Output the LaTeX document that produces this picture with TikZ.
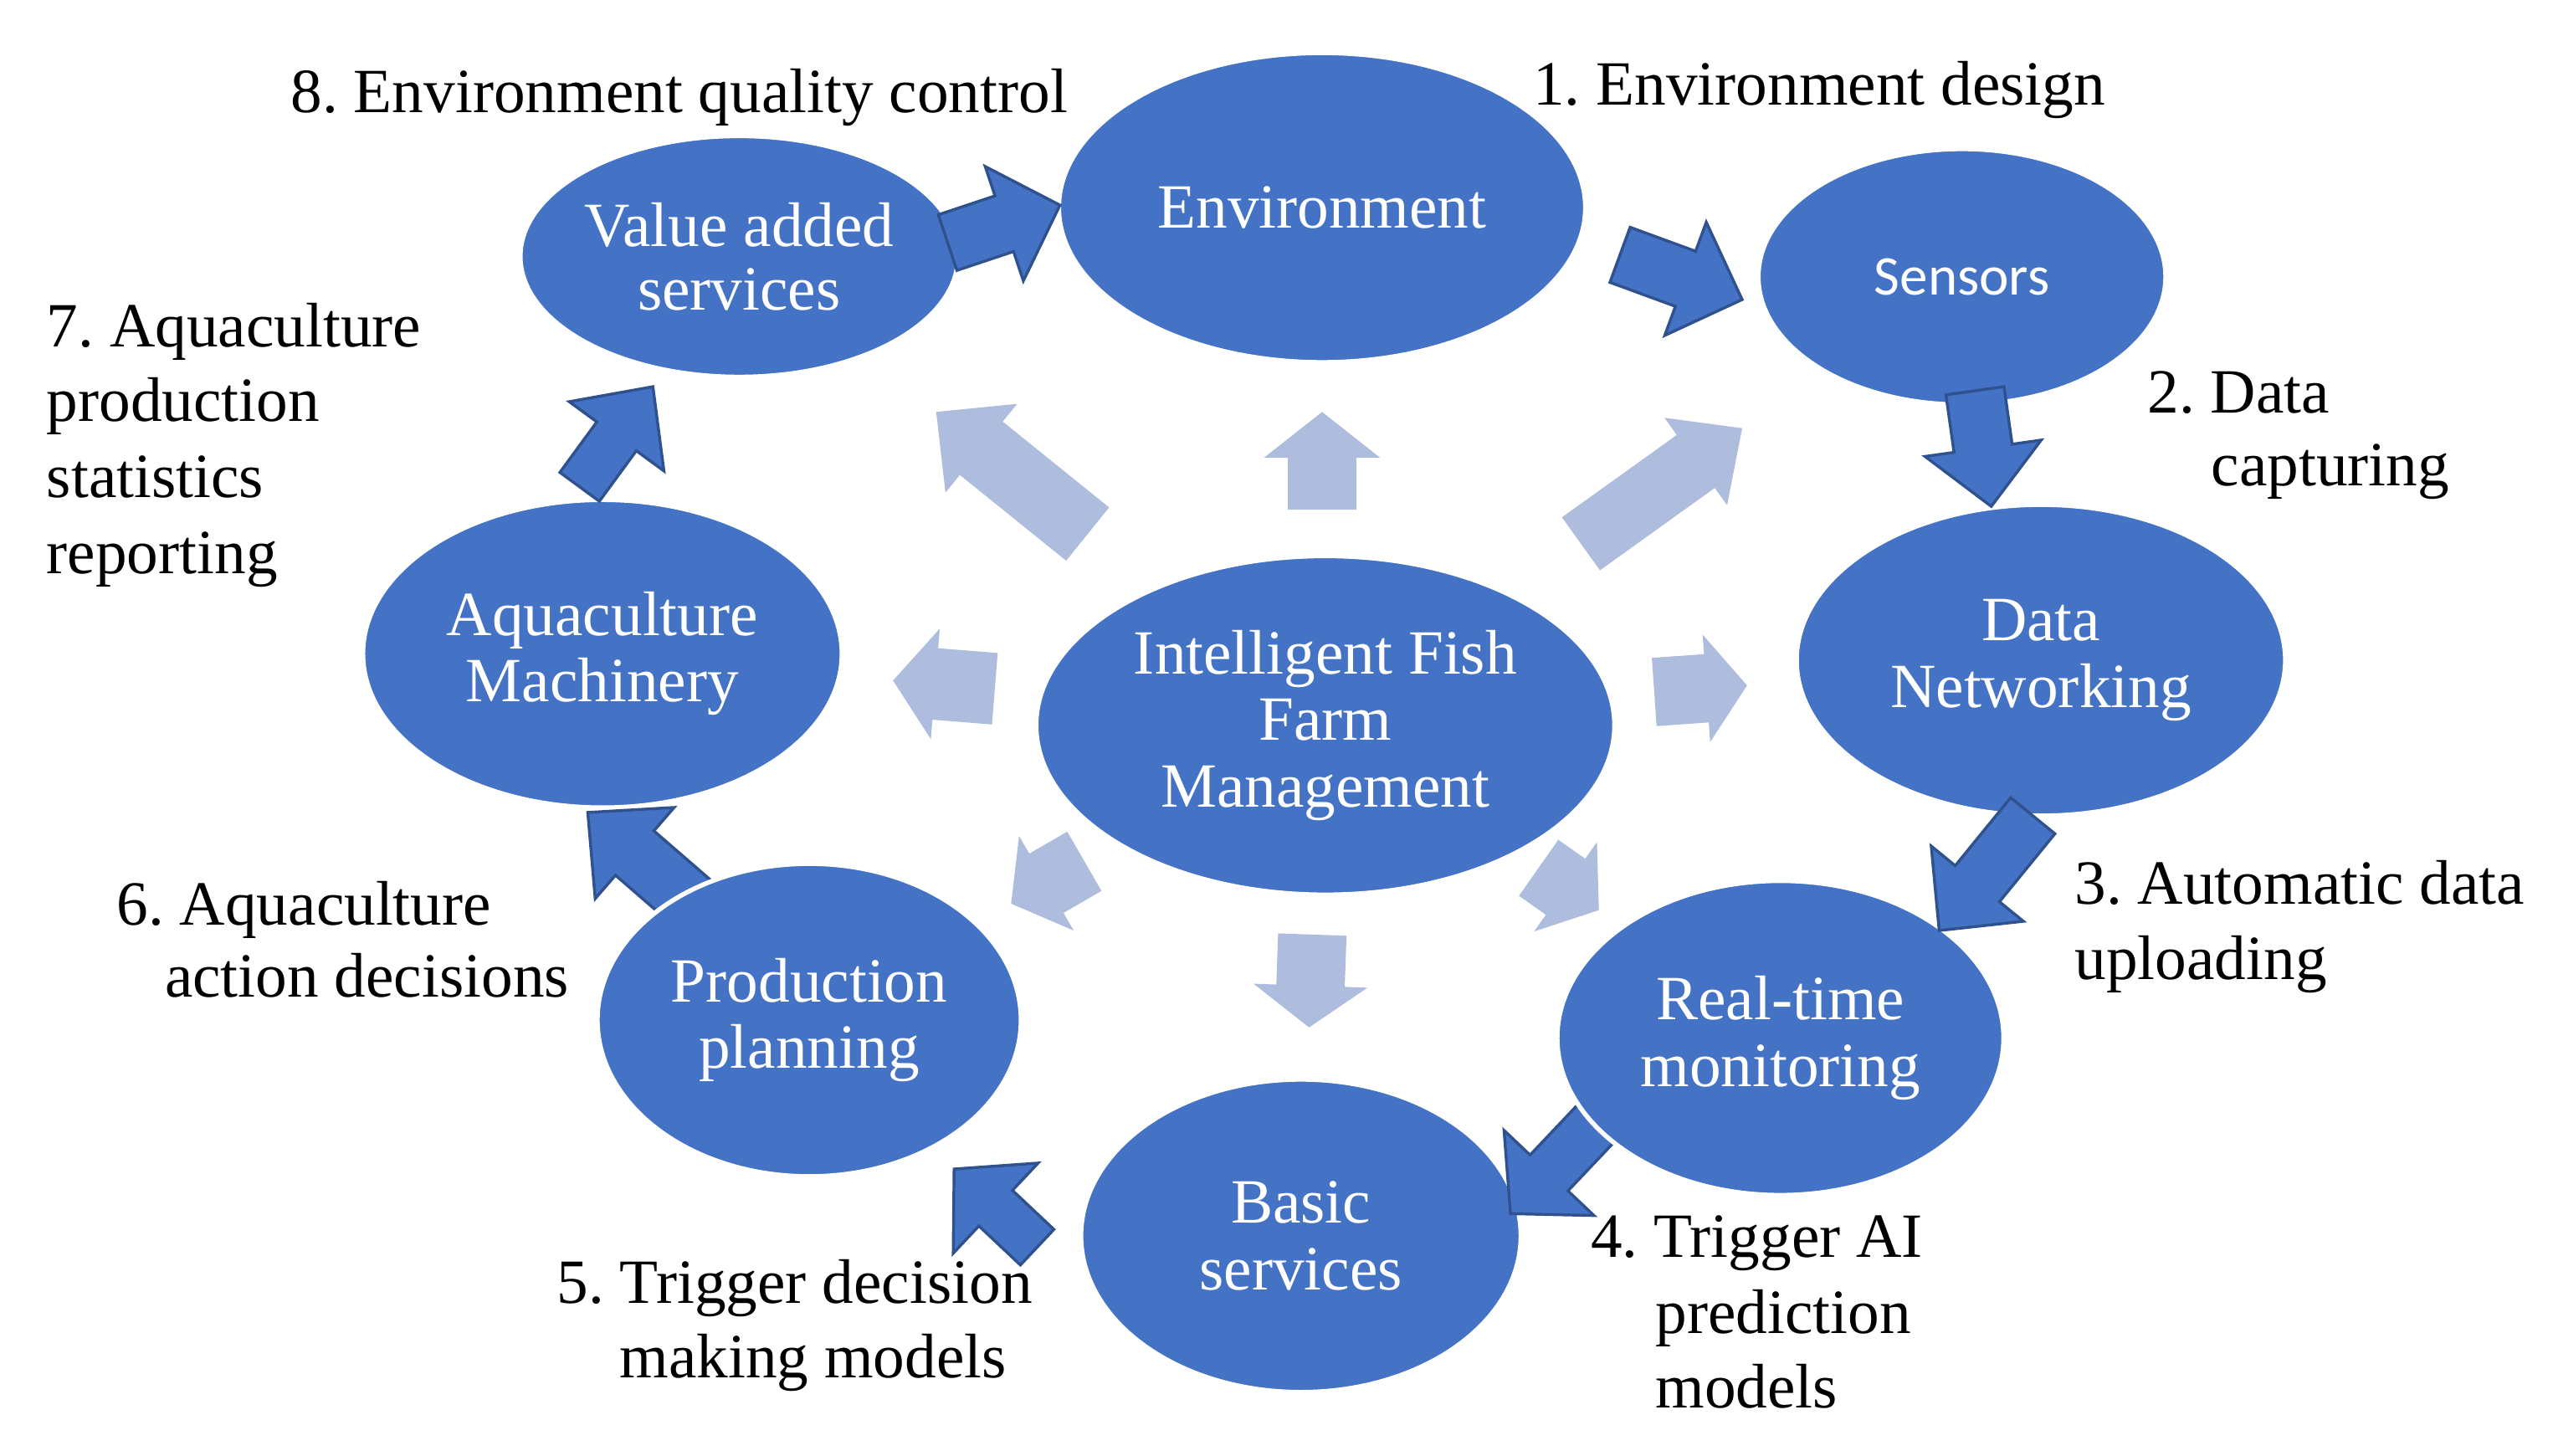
\documentclass[tikz,border=0pt]{standalone}
\usepackage{fontspec}
\setmainfont{Liberation Serif}
\newfontfamily\sensfont{Carlito}
\usetikzlibrary{calc,shapes.geometric}
\definecolor{ellblue}{HTML}{4472C4}
\definecolor{arredge}{HTML}{2F528F}
\definecolor{lightarr}{RGB}{174,188,221}
\frenchspacing

% block arrow: #1 tail coordinate, #2 tip coordinate, #3 half shaft, #4 half head, #5 head length (px), #6 style
\newcommand\blockarr[6]{%
  \path[#6] let \p1=(#1), \p2=(#2),
    \n1={atan2(\y2-\y1,\x2-\x1)},
    \n2={veclen(\x2-\x1,\y2-\y1)-#5*0.28453pt},
    \n3={#3*0.28453}, \n4={#4*0.28453} in
    ($(\p1)+(\n1+90:\n3 pt)$) --
    ($(\p1)+(\n1:\n2)+(\n1+90:\n3 pt)$) --
    ($(\p1)+(\n1:\n2)+(\n1+90:\n4 pt)$) --
    (\p2) --
    ($(\p1)+(\n1:\n2)+(\n1-90:\n4 pt)$) --
    ($(\p1)+(\n1:\n2)+(\n1-90:\n3 pt)$) --
    ($(\p1)+(\n1-90:\n3 pt)$) -- cycle;}

\tikzset{
  ell/.style={ellipse, fill=ellblue, draw=white, line width=0.8pt, inner sep=0pt,
    text=white, align=center, font=\fontsize{11}{11.6}\selectfont},
  lab/.style={anchor=base west, inner sep=0pt, font=\fontsize{11}{13.2}\selectfont},
  darrow/.style={fill=ellblue, draw=arredge, line width=0.5pt, line join=miter},
  larrow/.style={fill=lightarr}
}

\begin{document}
\begin{tikzpicture}[x=0.01cm,y=-0.01cm]
\fill[white] (0,0) rectangle (1568,894);
\useasboundingbox (0,0) rectangle (1568,894);

% light arrows (from the centre outwards)
\coordinate (lua) at (812,313);  \coordinate (lub) at (812,253);
\coordinate (lula) at (668,328); \coordinate (lulb) at (575,253);
\coordinate (lura) at (971,334); \coordinate (lurb) at (1070,263);
\coordinate (lra) at (1016,425); \coordinate (lrb) at (1073,421);
\coordinate (lla) at (611,423);  \coordinate (llb) at (548.5,418);
\coordinate (ldla) at (666,529); \coordinate (ldlb) at (621,555);
\coordinate (lda) at (806,574);  \coordinate (ldb) at (804,631);
\coordinate (ldra) at (945,533); \coordinate (ldrb) at (982,559);
\blockarr{lua}{lub}{21}{35.5}{28}{larrow}
\blockarr{lula}{lulb}{21}{35}{35.5}{larrow}
\blockarr{lura}{lurb}{20}{33}{35}{larrow}
\blockarr{lra}{lrb}{21}{33}{25}{larrow}
\blockarr{lla}{llb}{22}{34}{26}{larrow}
\blockarr{ldla}{ldlb}{21}{33.5}{25}{larrow}
\blockarr{lda}{ldb}{21}{35}{25.6}{larrow}
\blockarr{ldra}{ldrb}{21}{33.5}{25}{larrow}

% ellipses
\node[ell, minimum width=3.232cm, minimum height=1.90cm] (env) at (812,127.5) {Environment};
\node[ell, minimum width=2.58cm, minimum height=1.48cm, font=\fontsize{11}{11.1}\selectfont] (va) at (454,157.5) {Value added\\services};
\node[ell, minimum width=2.50cm, minimum height=1.57cm, font=\sensfont\fontsize{9.8}{11}\selectfont] (sens) at (1205,170) {Sensors};
\node[ell, minimum width=3.00cm, minimum height=1.91cm] (dn) at (1253.5,405.5) {Data\\Networking};
\node[ell, minimum width=2.70cm, minimum height=1.92cm] (basic) at (799,759) {Basic\\services};
\node[ell, minimum width=2.94cm, minimum height=1.89cm] (mach) at (370,401.5) {Aquaculture\\Machinery};
\node[ell, minimum width=3.55cm, minimum height=2.08cm] (ifm) at (814,445.5) {Intelligent Fish\\Farm\\Management};

% dark arrows whose tails lie under their source ellipse
\coordinate (d5a) at (983,687);  \coordinate (d5b) at (927.7,745.4);
\coordinate (d7a) at (428,557);  \coordinate (d7b) at (361,499);
\blockarr{d5a}{d5b}{16}{38}{34.4}{darrow}
\blockarr{d7a}{d7b}{18}{37}{38}{darrow}

\node[ell, minimum width=2.74cm, minimum height=1.93cm] (rt) at (1093.5,637.5) {Real-time\\monitoring};
\node[ell, minimum width=2.60cm, minimum height=1.92cm] (prod) at (497,626.5) {Production\\planning};

% remaining dark arrows
\coordinate (d1a) at (582,149);    \coordinate (d1b) at (651,126);
\coordinate (d2a) at (995,156.5);  \coordinate (d2b) at (1070,184);
\coordinate (d3a) at (1213,240);   \coordinate (d3b) at (1223,311);
\coordinate (d4a) at (1248.5,501); \coordinate (d4b) at (1191,571.5);
\coordinate (d6a) at (637,766);    \coordinate (d6b) at (586,718);
\coordinate (d8a) at (356,299);    \coordinate (d8b) at (401,237.5);
\blockarr{d1a}{d1b}{18}{37}{36}{darrow}
\blockarr{d2a}{d2b}{18}{37}{37}{darrow}
\blockarr{d3a}{d3b}{18}{36}{36}{darrow}
\blockarr{d4a}{d4b}{17.5}{36.5}{37}{darrow}
\blockarr{d6a}{d6b}{15}{38}{35}{darrow}
\blockarr{d8a}{d8b}{15}{36}{37.7}{darrow}

% labels
\node[lab] (l8) at (178,69.3) {8. Environment quality control};
\node[lab] (l1) at (941,64.4) {1. Environment design};
\node[lab] (l7a) at (28,213) {7. Aquaculture};
\node[lab] (l7b) at (28,259) {production};
\node[lab] (l7c) at (28,305.3) {statistics};
\node[lab] (l7d) at (28,352.5) {reporting};
\node[lab] (l2a) at (1318.4,253.7) {2. Data};
\node[lab] (l2b) at (1357.5,298.5) {capturing};
\node[lab] (l3a) at (1273.7,555.5) {3. Automatic data};
\node[lab] (l3b) at (1273.7,601.3) {uploading};
\node[lab] (l4a) at (976.4,772.4) {4. Trigger AI};
\node[lab] (l4b) at (1016.2,818.7) {prediction};
\node[lab] (l4c) at (1016.2,864.7) {models};
\node[lab] (l5a) at (341.4,800.4) {5. Trigger decision};
\node[lab] (l5b) at (380,846.1) {making models};
\node[lab] (l6a) at (71.1,568) {6. Aquaculture};
\node[lab] (l6b) at (100.6,612.2) {action decisions};
\end{tikzpicture}
\end{document}
